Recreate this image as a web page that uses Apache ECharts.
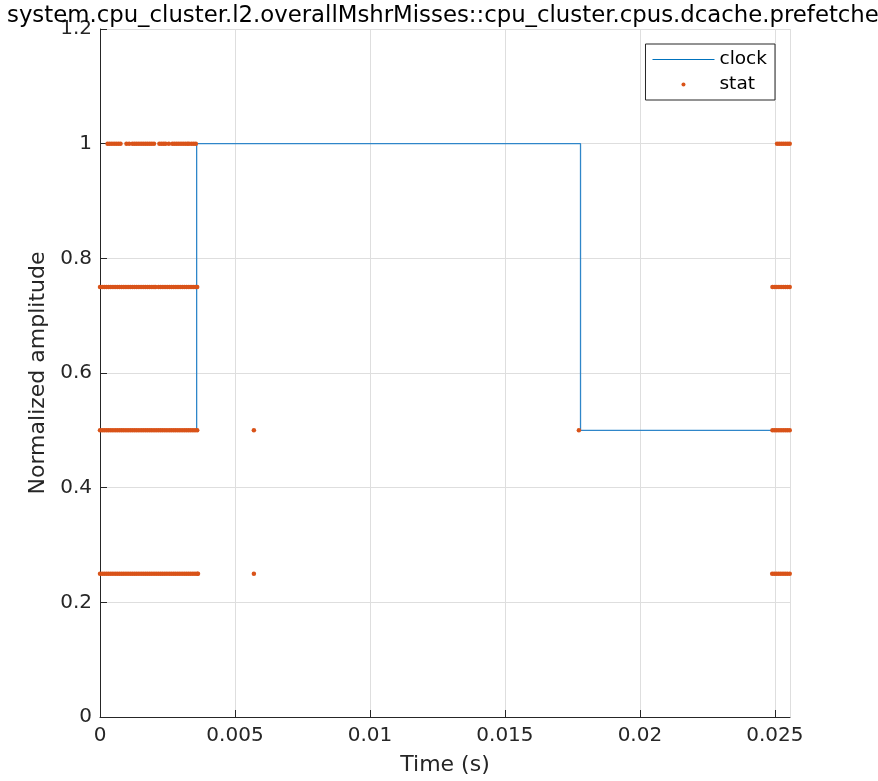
<!DOCTYPE html>
<html>
<head>
<meta charset="utf-8">
<script src="https://cdn.jsdelivr.net/npm/echarts@6/dist/echarts.min.js"></script>
<style>html,body{margin:0;padding:0;background:#fff}#c{width:878px;height:781px}</style>
</head>
<body>
<div id="c"></div>
<script>
const titleText = 'system.cpu_cluster.l2.overallMshrMisses::cpu_cluster.cpus.dcache.prefetcher';
const xTicks = [0, 0.005, 0.01, 0.015, 0.02, 0.025];
const yTicks = [0, 0.2, 0.4, 0.6, 0.8, 1, 1.2];

// clock: step signal (time, amplitude)
const clockT = [0, 0.00358, 0.00358, 0.0178, 0.0178, 0.02556];
const clockV = [0.5, 0.5, 1, 1, 0.5, 0.5];

// stat samples, grouped by level
const statX_100 = [0.00028,0.00036,0.00044,0.00052,0.0006,0.00068,0.00076,
  0.00098,0.00108,
  0.0012,0.00128,0.00136,0.00144,0.00152,0.0016,0.00168,0.00176,0.00184,0.00192,0.002,
  0.0022,0.00228,0.00236,0.00243,
  0.00255,
  0.00268,0.00276,0.00284,0.00292,0.003,0.00308,0.00316,0.00324,0.0033,
  0.00339,0.00347,0.00355,
  0.02508,0.02516,0.02524,0.02532,0.0254,0.02548,0.02555];
const statX_075 = [0,0.00008,0.00016,0.00024,0.00032,0.0004,0.00048,0.00056,0.00064,0.00072,0.0008,
  0.00088,0.00096,0.00104,0.00112,0.0012,0.00128,0.00136,0.00144,0.00152,0.0016,0.00168,0.00176,
  0.00184,0.00192,0.002,0.00206,
  0.00217,0.00225,0.00233,0.00241,0.00249,0.00257,0.00265,0.00273,0.00281,0.00289,0.00297,
  0.00305,0.00313,0.00321,0.00329,0.00337,0.00345,0.00353,0.0036,
  0.02491,0.02499,0.02507,0.02515,0.02523,0.02531,0.02539,0.02547,0.02555];
const statX_050 = [0,0.00008,0.00016,0.00024,0.00032,0.0004,0.00048,0.00056,0.00064,0.00072,0.0008,
  0.00088,0.00096,0.00104,0.00112,0.0012,0.00128,0.00136,0.00144,0.00152,0.0016,0.00168,0.00176,
  0.00184,0.00192,0.002,0.00208,0.00216,0.00224,0.00232,0.0024,0.00248,0.00256,0.00264,0.00272,
  0.0028,0.00288,0.00296,0.00304,0.00312,0.0032,0.00328,0.00336,0.00344,0.00352,0.0036,
  0.0057,
  0.01774,
  0.02491,0.02499,0.02507,0.02515,0.02523,0.02531,0.02539,0.02547,0.02555];
const statX_025 = [0,0.00008,0.00016,0.00024,0.00032,0.0004,0.00048,0.00056,0.00064,0.00072,0.0008,
  0.00088,0.00096,0.00104,0.00112,0.0012,0.00128,0.00136,0.00144,0.00152,0.0016,0.00168,0.00176,
  0.00184,0.00192,0.002,0.00208,0.00216,0.00224,0.00232,0.0024,0.00248,0.00256,0.00264,0.00272,
  0.0028,0.00288,0.00296,0.00304,0.00312,0.0032,0.00328,0.00336,0.00344,0.00352,0.0036,0.00363,
  0.0057,
  0.0249,0.02498,0.02506,0.02514,0.02522,0.0253,0.02538,0.02546,0.02555];

const statLevels = [1, 0.75, 0.5, 0.25];
const statXs = [statX_100, statX_075, statX_050, statX_025];

const clockData = clockT.map((t, i) => [t, clockV[i]]);
const statData = [];
statLevels.forEach((lv, k) => statXs[k].forEach(x => statData.push([x, lv])));

const FONT = 'DejaVu Sans';
const AX = '#262626';
const chart = echarts.init(document.getElementById('c'), null, {renderer: 'canvas'});
const xMax = 0.02556;
function isTick(v, ticks){ return ticks.some(t => Math.abs(t - v) < 1e-9); }

chart.setOption({
  animation: false,
  backgroundColor: '#ffffff',
  title: {
    text: titleText, left: 2, top: 0,
    textStyle: {fontFamily: FONT, fontSize: 22.8, fontWeight: 'normal', color: '#000'}
  },
  grid: {left: 100, top: 29, width: 690, height: 690, containLabel: false},
  legend: {
    right: 103, top: 44, orient: 'vertical',
    borderColor: AX, borderWidth: 1, borderRadius: 0,
    padding: [6, 8, 6, 7], itemGap: 6, itemWidth: 62, itemHeight: 4,
    backgroundColor: '#fff',
    textStyle: {fontFamily: FONT, fontSize: 18.5, color: '#000', lineHeight: 18},
    data: [
      {name: 'clock', icon: 'path://M0,0L62,0L62,1L0,1Z', itemStyle: {color: '#0072BD'}},
      {name: 'stat', icon: 'circle'}
    ]
  },
  xAxis: {
    type: 'value', min: 0, max: xMax, interval: 0.005,
    name: 'Time (s)', nameLocation: 'middle', nameGap: 37,
    nameTextStyle: {fontFamily: FONT, fontSize: 22, color: AX},
    axisLine: {show: true, onZero: false, lineStyle: {color: AX, width: 1}},
    axisTick: {show: true, inside: true, length: 7, lineStyle: {color: AX}},
    axisLabel: {
      fontFamily: FONT, fontSize: 20, color: AX, margin: 9, showMaxLabel: false,
      formatter: v => isTick(v, xTicks) ? String(+v.toFixed(3)) : ''
    },
    splitLine: {show: true, lineStyle: {color: '#dedede', width: 1}}
  },
  yAxis: {
    type: 'value', min: 0, max: 1.2, interval: 0.2,
    name: 'Normalized amplitude', nameLocation: 'middle', nameGap: 50,
    nameTextStyle: {fontFamily: FONT, fontSize: 22, color: AX},
    axisLine: {show: true, onZero: false, lineStyle: {color: AX, width: 1}},
    axisTick: {show: true, inside: true, length: 7, lineStyle: {color: AX}},
    axisLabel: {
      fontFamily: FONT, fontSize: 20, color: AX, margin: 8,
      formatter: v => String(+v.toFixed(1))
    },
    splitLine: {show: true, lineStyle: {color: '#dedede', width: 1}}
  },
  series: [
    {
      name: 'clock', type: 'line', data: clockData, symbol: 'none', showSymbol: false,
      lineStyle: {color: '#2f86c9', width: 1.3}, itemStyle: {color: '#0072BD'},
      clip: true, z: 2
    },
    {
      name: 'stat', type: 'scatter', data: statData, symbol: 'circle', symbolSize: 4.5,
      itemStyle: {color: '#D95319', opacity: 1}, clip: false, z: 3
    }
  ]
});
</script>
</body>
</html>
